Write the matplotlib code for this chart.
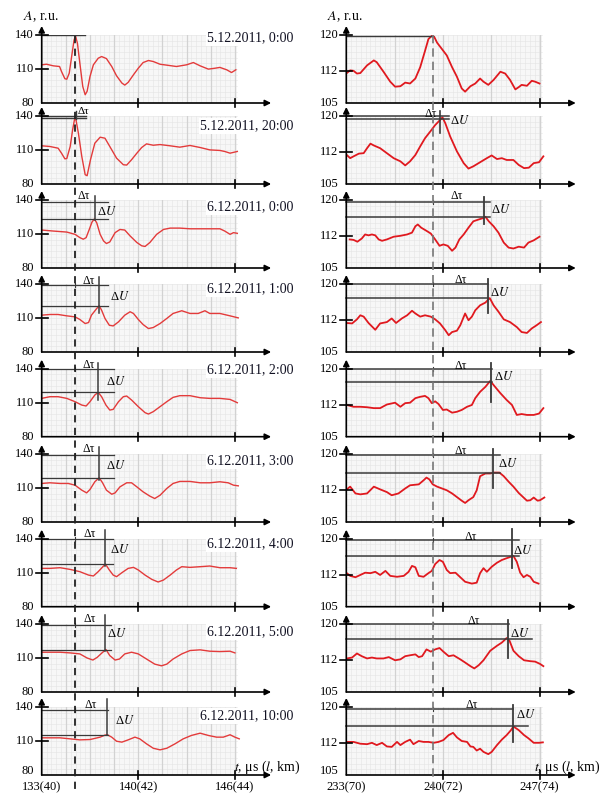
import matplotlib
matplotlib.use('Agg')
import matplotlib.pyplot as plt
from matplotlib.lines import Line2D
from matplotlib.patches import Rectangle
from matplotlib.transforms import blended_transform_factory
import numpy as np

plt.rcParams['font.family'] = ['Liberation Serif', 'DejaVu Serif']
plt.rcParams['mathtext.fontset'] = 'stix'

# ---------------- DATA ----------------
dates = ['5.12.2011, 0:00', '5.12.2011, 20:00', '6.12.2011, 0:00', '6.12.2011, 1:00',
         '6.12.2011, 2:00', '6.12.2011, 3:00', '6.12.2011, 4:00', '6.12.2011, 5:00',
         '6.12.2011, 10:00']

left_xticks = [40, 42, 44]
left_xlabels = ['133(40)', '140(42)', '146(44)']
right_xticks = [70, 72, 74]
right_xlabels = ['233(70)', '240(72)', '247(74)']
left_yticks = [80, 110, 140]
right_yticks = [105, 112, 120]

# left column (l = 40..44 km)
xL1 = [40.00,40.10,40.24,40.37,40.41,40.48,40.52,40.57,40.62,40.67,40.70,40.74,40.79,40.85,40.90,40.94,41.00,41.07,41.17,41.24,41.34,41.45,41.55,41.66,41.72,41.79,41.90,42.00,42.10,42.21,42.31,42.45,42.59,42.79,43.00,43.14,43.28,43.45,43.59,43.69,43.83,43.93,44.02]
aL1 = [113.7,114.2,112.8,112.2,107.8,101.4,101.0,106.3,121.0,135.6,139.1,132.7,115.1,94.6,87.3,90.3,103.4,113.7,119.5,121.0,119.2,112.2,104.0,97.6,95.8,98.2,104.9,110.7,115.7,117.5,116.6,114.2,113.4,112.2,113.7,115.7,112.8,109.9,110.7,111.4,109.3,106.9,109.3]

xL2 = [40.00,40.17,40.34,40.41,40.48,40.52,40.59,40.64,40.68,40.71,40.76,40.83,40.90,40.94,41.01,41.10,41.21,41.31,41.41,41.55,41.69,41.76,41.86,41.97,42.07,42.17,42.31,42.45,42.66,42.86,43.07,43.28,43.48,43.69,43.79,43.90,44.05]
aL2 = [113.7,113.1,111.6,107.2,102.2,102.5,113.1,127.7,137.1,136.5,124.8,104.3,88.2,87.3,101.4,116.0,121.3,120.4,113.1,102.8,97.0,96.7,101.4,107.2,112.2,115.4,114.2,114.8,113.7,112.5,114.0,112.2,110.1,109.6,108.7,107.2,108.7]

xL3 = [40.00,40.24,40.52,40.69,40.79,40.86,40.92,40.99,41.04,41.09,41.14,41.21,41.28,41.34,41.41,41.52,41.62,41.72,41.83,41.97,42.07,42.14,42.24,42.38,42.52,42.66,42.86,43.07,43.28,43.48,43.69,43.79,43.90,43.97,44.05]
aL3 = [113.5,112.6,111.7,109.7,106.8,105.4,106.8,114.6,120.4,123.3,119.8,109.7,103.9,101.6,103.0,111.2,114.0,113.5,108.3,102.5,99.6,99.0,102.5,109.7,114.0,115.2,115.2,114.6,114.6,114.6,114.6,112.6,109.7,111.2,110.6]

xL4 = [40.00,40.17,40.34,40.52,40.69,40.79,40.90,40.97,41.03,41.14,41.19,41.24,41.31,41.40,41.48,41.59,41.72,41.83,41.90,42.00,42.10,42.21,42.31,42.45,42.59,42.72,42.90,43.07,43.24,43.38,43.48,43.69,43.90,44.07]
aL4 = [112.5,113.1,113.1,111.9,111.0,108.7,105.1,106.0,112.5,118.4,120.8,116.9,109.6,103.6,103.0,106.6,112.5,115.5,114.0,108.7,104.2,100.7,101.6,105.1,109.6,114.0,116.4,114.0,114.0,116.4,114.0,114.0,111.9,110.1]

xL5 = [40.00,40.17,40.34,40.52,40.69,40.83,40.92,41.00,41.10,41.17,41.24,41.33,41.41,41.48,41.59,41.69,41.76,41.86,42.00,42.14,42.21,42.31,42.45,42.59,42.72,42.86,43.07,43.28,43.48,43.69,43.90,44.05]
aL5 = [113.8,115.3,115.3,113.8,110.9,107.9,107.1,110.9,116.8,119.1,115.3,107.9,103.5,104.1,110.9,115.3,115.9,112.4,106.5,101.2,100.0,102.1,106.5,110.9,114.7,116.2,116.2,114.4,113.8,113.8,112.9,110.0]

xL6 = [40.00,40.17,40.38,40.55,40.69,40.83,40.93,41.00,41.10,41.19,41.26,41.34,41.45,41.52,41.62,41.76,41.86,41.97,42.10,42.24,42.34,42.45,42.59,42.72,42.86,43.07,43.28,43.48,43.69,43.86,43.97,44.07]
aL6 = [114.0,114.6,114.0,114.0,112.5,108.1,105.7,108.7,115.5,119.0,114.6,108.1,104.5,105.7,111.0,114.6,114.6,111.0,106.6,102.8,100.7,103.6,109.6,114.0,115.8,115.8,114.6,114.6,115.5,114.6,112.5,111.9]

xL7 = [40.00,40.17,40.38,40.59,40.79,40.97,41.07,41.17,41.28,41.32,41.40,41.48,41.55,41.66,41.79,41.90,42.00,42.14,42.28,42.41,42.52,42.66,42.79,42.90,43.07,43.28,43.48,43.69,43.90,44.03]
aL7 = [113.8,113.8,114.4,112.9,110.9,107.9,107.1,110.9,115.9,117.6,112.4,107.9,106.5,110.0,113.8,114.7,112.4,107.9,104.1,101.8,103.5,107.9,112.4,115.3,114.7,115.3,115.9,114.4,114.4,113.8]

xL8 = [40.00,40.17,40.38,40.59,40.79,40.94,41.06,41.15,41.24,41.33,41.41,41.52,41.61,41.72,41.86,42.00,42.17,42.34,42.48,42.59,42.72,42.90,43.07,43.28,43.48,43.69,43.90,44.00]
aL8 = [115.1,115.1,115.1,114.5,113.6,110.0,108.2,110.6,114.2,117.5,112.1,108.2,109.1,113.6,115.1,113.6,109.1,104.6,103.1,104.6,109.1,113.6,116.6,117.2,116.0,115.7,116.0,114.5]

xL9 = [40.00,40.17,40.38,40.59,40.79,41.00,41.21,41.31,41.36,41.45,41.55,41.66,41.79,41.93,42.03,42.17,42.31,42.45,42.59,42.76,42.93,43.10,43.28,43.45,43.62,43.76,43.90,44.00,44.09]
aL9 = [112.8,112.8,112.8,111.9,111.0,111.3,113.4,115.2,115.5,113.4,109.8,109.0,111.0,113.4,111.9,107.5,103.6,102.2,103.6,107.5,111.9,114.9,116.9,114.9,113.4,113.4,115.5,113.4,111.9]

# right column (l = 70..74 km)
xR1 = [70.01,70.08,70.15,70.22,70.29,70.43,70.57,70.63,70.77,70.91,71.01,71.12,71.22,71.32,71.43,71.53,71.63,71.70,71.77,71.82,71.88,71.98,72.08,72.19,72.29,72.39,72.46,72.57,72.67,72.77,72.84,72.94,73.05,73.19,73.29,73.39,73.50,73.57,73.63,73.74,73.84,73.91,74.00]
aR1 = [111.6,112.2,112.1,111.5,111.6,113.3,114.4,114.0,111.9,109.7,108.6,108.7,109.5,109.3,110.4,112.9,116.5,119.1,119.8,119.6,118.3,116.9,115.5,112.9,110.8,108.2,107.5,108.7,109.3,110.4,109.7,109.0,110.1,111.9,111.5,110.1,108.0,108.5,109.0,108.8,109.9,109.7,109.3]

xR2 = [70.01,70.08,70.15,70.26,70.36,70.43,70.50,70.57,70.70,70.84,70.98,71.12,71.22,71.32,71.43,71.53,71.63,71.74,71.84,71.94,71.99,72.05,72.15,72.29,72.43,72.53,72.63,72.77,72.91,73.01,73.12,73.22,73.32,73.46,73.57,73.68,73.78,73.88,73.99,74.08]
aR2 = [111.4,110.7,111.1,111.7,111.8,112.9,113.9,113.5,112.9,111.8,110.7,110.0,109.1,110.0,111.4,113.3,115.1,116.6,118.0,119.1,119.7,118.4,115.5,112.2,109.6,108.4,108.9,109.8,110.7,111.3,110.5,110.7,110.3,110.3,109.2,108.5,108.6,109.6,109.8,111.1]

xR3 = [70.07,70.15,70.23,70.32,70.39,70.46,70.53,70.60,70.67,70.74,70.84,70.98,71.12,71.26,71.36,71.43,71.48,71.55,71.66,71.75,71.84,71.93,72.01,72.10,72.19,72.26,72.34,72.43,72.53,72.63,72.74,72.83,72.88,72.95,73.05,73.15,73.26,73.36,73.46,73.57,73.68,73.77,73.88,74.00]
aR3 = [111.3,111.2,110.8,111.5,112.4,112.2,112.4,112.2,111.3,111.0,111.3,111.9,112.1,112.4,112.8,114.2,114.6,113.9,113.2,112.6,111.3,109.9,110.2,109.9,108.8,109.5,111.3,112.4,113.9,115.3,115.7,116.0,116.3,115.3,114.2,112.8,110.6,109.5,109.3,109.7,109.5,110.6,111.1,111.9]

xR4 = [70.01,70.12,70.22,70.29,70.36,70.46,70.60,70.70,70.84,70.94,71.03,71.15,71.26,71.36,71.43,71.53,71.63,71.75,71.84,71.94,72.05,72.12,72.19,72.29,72.36,72.46,72.53,72.60,72.67,72.77,72.88,72.97,73.05,73.15,73.26,73.39,73.53,73.63,73.74,73.84,73.94,74.03]
aR4 = [111.4,111.3,112.2,113.1,112.8,111.4,109.9,111.3,111.6,112.4,111.4,112.4,113.1,114.1,113.5,112.8,113.1,112.8,112.2,111.3,109.8,108.7,109.4,109.7,110.9,113.5,112.0,112.8,114.2,115.3,115.9,116.9,115.3,113.9,112.2,111.6,110.5,109.4,109.2,110.2,110.9,111.6]

xR5 = [70.01,70.15,70.29,70.43,70.57,70.70,70.84,71.01,71.12,71.22,71.32,71.43,71.53,71.63,71.70,71.77,71.84,71.91,72.00,72.08,72.19,72.29,72.39,72.50,72.60,72.67,72.77,72.88,72.98,73.08,73.19,73.32,73.43,73.53,73.63,73.74,73.88,73.99,74.08]
aR5 = [112.0,111.6,111.6,111.5,111.3,111.3,112.1,112.5,111.6,112.4,112.5,113.5,113.8,114.0,113.5,112.4,112.8,112.2,110.9,111.0,110.3,110.5,110.9,111.6,112.0,113.5,114.9,116.0,117.3,116.0,114.6,113.1,112.0,109.8,110.0,109.8,109.8,110.1,111.3]

xR6 = [70.01,70.08,70.19,70.29,70.43,70.57,70.70,70.84,70.94,71.08,71.22,71.32,71.50,71.60,71.66,71.72,71.79,71.88,71.98,72.08,72.19,72.29,72.39,72.46,72.53,72.63,72.70,72.77,72.88,72.98,73.05,73.17,73.26,73.36,73.46,73.57,73.66,73.74,73.81,73.88,73.96,74.01,74.10]
aR6 = [112.2,112.8,111.3,111.1,111.3,112.8,112.2,111.6,110.9,111.3,112.4,113.1,113.3,114.2,114.8,114.4,113.3,112.8,112.4,112.0,111.3,110.5,109.7,109.2,109.8,110.5,112.0,115.1,115.7,115.7,115.9,115.9,115.1,113.9,112.8,111.4,110.5,109.7,109.8,110.4,109.7,109.8,110.4]

xR7 = [70.01,70.08,70.19,70.29,70.39,70.50,70.60,70.70,70.81,70.91,71.05,71.19,71.29,71.36,71.43,71.50,71.60,71.70,71.77,71.84,71.93,72.00,72.08,72.15,72.26,72.36,72.46,72.60,72.70,72.77,72.84,72.91,73.01,73.12,73.22,73.32,73.46,73.53,73.60,73.67,73.74,73.81,73.88,73.98]
aR7 = [112.4,111.8,111.5,112.0,112.5,112.4,112.7,112.0,112.9,111.8,111.6,111.8,112.7,114.0,113.7,111.8,111.6,112.4,112.9,114.4,115.3,114.9,113.1,112.4,112.5,111.5,110.5,110.1,110.3,112.4,113.5,112.7,113.8,114.7,115.3,115.7,116.2,114.9,112.5,111.5,112.0,111.6,110.5,110.1]

xR8 = [70.01,70.12,70.22,70.32,70.43,70.53,70.63,70.77,70.88,71.01,71.12,71.22,71.32,71.43,71.50,71.57,71.66,71.75,71.84,71.93,72.01,72.12,72.22,72.36,72.46,72.57,72.65,72.74,72.84,72.98,73.12,73.22,73.32,73.38,73.46,73.57,73.68,73.81,73.91,74.01,74.08]
aR8 = [112.4,112.6,113.5,112.9,112.4,112.6,112.4,112.4,112.7,112.0,112.2,112.9,113.1,113.3,112.7,112.9,114.4,113.9,114.4,114.7,113.9,112.9,113.1,112.2,111.5,110.7,110.2,110.9,112.0,114.1,115.2,115.9,116.9,116.3,114.1,112.9,112.0,111.8,111.7,111.2,110.7]

xR9 = [70.01,70.15,70.29,70.43,70.53,70.63,70.74,70.84,70.94,71.05,71.12,71.22,71.32,71.39,71.50,71.60,71.70,71.81,71.91,72.01,72.12,72.21,72.29,72.39,72.50,72.57,72.63,72.70,72.77,72.84,72.94,73.01,73.12,73.22,73.32,73.41,73.46,73.57,73.68,73.77,73.88,73.99,74.07]
aR9 = [112.3,112.3,111.9,111.8,112.1,111.6,112.1,111.3,111.2,112.3,111.6,112.3,112.8,111.8,112.5,112.3,112.3,112.1,112.3,112.7,113.8,114.3,113.3,112.5,112.3,111.3,111.2,110.4,110.8,110.1,109.6,110.1,111.6,112.8,113.8,114.9,115.7,114.9,113.8,113.1,112.1,112.1,112.2]

# reference (dashed) position and pulse peaks (l km, amplitude), rows 3..9
ref_L, ref_R = 40.69, 71.79
peak_xL = [41.10, 41.19, 41.16, 41.19, 41.31, 41.32, 41.36]
peak_aL = [123.3, 120.8, 119.1, 119.0, 117.6, 117.5, 115.0]
peak_xR = [72.86, 72.93, 72.99, 73.03, 73.43, 73.34, 73.46]
peak_aR = [116.3, 116.9, 117.1, 115.9, 116.2, 116.7, 115.7]

left_curves = list(zip([xL1, xL2, xL3, xL4, xL5, xL6, xL7, xL8, xL9],
                       [aL1, aL2, aL3, aL4, aL5, aL6, aL7, aL8, aL9]))
right_curves = list(zip([xR1, xR2, xR3, xR4, xR5, xR6, xR7, xR8, xR9],
                        [aR1, aR2, aR3, aR4, aR5, aR6, aR7, aR8, aR9]))

# ---------------- LAYOUT ----------------
W, H = 606, 796
fig = plt.figure(figsize=(W / 100, H / 100), dpi=100)
row_top = [35, 116, 200, 284, 368.7, 454, 538.7, 624, 707]
PH = 68
PXKM = 48.3
XSPAN = 4.75
LEFT_PX, RIGHT_PX = 41.7, 346.3

ANN = '#3a3a3a'


def panel(x_px, top, x0, ylo, yhi, yticks, maj, hstep, xs, ys, lw, col, last):
    ax = fig.add_axes([x_px / W, 1 - (top + PH) / H, XSPAN * PXKM / W, PH / H])
    ax.set_xlim(x0, x0 + XSPAN)
    ax.set_ylim(ylo, yhi)
    ax.axis('off')
    ux = 1 / PXKM
    uy = (yhi - ylo) / PH
    gx1 = x0 + 4.05
    ax.add_patch(Rectangle((x0, ylo), gx1 - x0, yhi - ylo, facecolor='#f7f7f7',
                           edgecolor='none', zorder=0))
    for v in np.arange(x0, gx1 + 1e-6, 0.1):
        ax.plot([v, v], [ylo, yhi], color='#e4e4e4', lw=0.4, zorder=0.5)
    for h in np.arange(ylo, yhi + 1e-6, hstep):
        ax.plot([x0, gx1], [h, h], color='#e4e4e4', lw=0.4, zorder=0.5)
    for v in np.arange(x0 + maj, gx1, maj):
        ax.plot([v, v], [ylo, yhi], color='#d2d2d2', lw=0.9, zorder=0.6)
    ax.plot(xs, ys, color=col, lw=lw, zorder=3, solid_joinstyle='round')
    # axes with arrows
    ap = dict(arrowstyle='-|>', color='k', lw=1.2, shrinkA=0, shrinkB=0, mutation_scale=9)
    ax.annotate('', xy=(x0 + XSPAN, ylo), xytext=(x0, ylo), arrowprops=ap,
                annotation_clip=False, zorder=5)
    ax.annotate('', xy=(x0, yhi + 9 * uy), xytext=(x0, ylo), arrowprops=ap,
                annotation_clip=False, zorder=5)
    for t in (x0 + 2, x0 + 4):
        ax.plot([t, t], [ylo - 4 * uy, ylo + 4 * uy], color='k', lw=1.2, clip_on=False, zorder=5)
    for yt in yticks[1:]:
        ax.plot([x0 - 6 * ux, x0 + 6 * ux], [yt, yt], color='k', lw=1.2, clip_on=False, zorder=5)
    for j, yt in enumerate(yticks):
        yy = yt + (4 * uy if (last and j == 0) else 0)
        ax.text(x0 - 8 * ux, yy, str(yt), ha='right', va='center', fontsize=9, zorder=6)
    return ax, ux, uy


axL, axR = [], []
for i in range(9):
    a, uxl, uyl = panel(LEFT_PX, row_top[i], 40, 80, 140, left_yticks, 0.5, 5,
                        left_curves[i][0], left_curves[i][1], 1.0, '#e33b3b', i == 8)
    b, uxr, uyr = panel(RIGHT_PX, row_top[i], 70, 105, 120, right_yticks, 1.0, 1.25,
                        right_curves[i][0], right_curves[i][1], 1.3, '#e0191f', i == 8)
    axL.append((a, uxl, uyl))
    axR.append((b, uxr, uyr))

# date labels
date_y = [137.4, 131.2, 133.8, 135.6, 138.8, 133.8, 135.3, 132.9, 132.0]
for i, d in enumerate(dates):
    axL[i][0].text(45.22, date_y[i], d, ha='right', va='center', fontsize=10,
                   color='#111122', zorder=7,
                   bbox=dict(facecolor='white', edgecolor='none', pad=1.2))


def ann(ax, ux, uy, x0, top, end1, end2, px, pa, vtop, vbot, tx, ty, Ux, Uy, ref, lwl):
    ax.plot([x0, end1], [top, top], color=ANN, lw=lwl, zorder=4, clip_on=False)
    ax.plot([x0, end2], [pa, pa], color=ANN, lw=lwl, zorder=4, clip_on=False)
    ax.plot([px, px], [vtop, vbot], color=ANN, lw=lwl + 0.2, zorder=4, clip_on=False)
    ax.plot([ref, ref], [top - 2 * uy, top + 2 * uy], color=ANN, lw=0.8, zorder=4, clip_on=False)
    ax.text(tx, ty, 'Δτ', ha='center', va='center', fontsize=8.5, zorder=6)
    ax.text(Ux, Uy, r'Δ$U$', ha='left', va='center', fontsize=9, zorder=6)


# row 1
a, ux, uy = axL[0]
a.plot([40, 40.90], [140, 140], color=ANN, lw=1.0, zorder=4)
b, ux, uy = axR[0]
b.plot([70, ref_R], [119.8, 119.8], color=ANN, lw=1.0, zorder=4)

# row 2
a, ux, uy = axL[1]
a.plot([40, 40.92], [140, 140], color=ANN, lw=1.0, zorder=4, clip_on=False)
a.plot([40, 40.92], [138.6, 138.6], color=ANN, lw=1.0, zorder=4, clip_on=False)
a.plot([40.71, 40.71], [137.5, 144.0], color=ANN, lw=1.0, zorder=4, clip_on=False)
a.text(40.74, 144.2, 'Δτ', ha='left', va='center', fontsize=8, zorder=6)
b, ux, uy = axR[1]
b.plot([70, 72.12], [119.9, 119.9], color=ANN, lw=1.1, zorder=4, clip_on=False)
b.plot([70, 72.12], [119.4, 119.4], color=ANN, lw=1.1, zorder=4, clip_on=False)
b.plot([71.93, 71.93], [121.0, 116.2], color=ANN, lw=1.2, zorder=4, clip_on=False)
b.text(71.88, 120.5, 'Δτ', ha='right', va='center', fontsize=8.5, zorder=6)
b.text(72.14, 119.1, r'Δ$U$', ha='left', va='center', fontsize=9, zorder=6)

# rows 3..9, left
Ltop = [138.6, 139.1, 139.4, 139.1, 139.4, 139.4, 137.6]
Lend = [41.38, 41.38, 41.50, 41.50, 41.47, 41.43, 41.38]
Lvtop = [143.5, 145.9, 144.7, 145.9, 147.6, 148.1, 147.4]
Lvbot = [122.0, 114.6, 112.4, 117.5, 115.9, 116.6, 114.9]
Ltx = [40.87, 40.97, 40.97, 40.97, 41.00, 40.99, 41.01]
Lty = [143.5, 143.0, 143.2, 144.1, 143.8, 144.2, 141.5]
LUx = [41.15, 41.41, 41.33, 41.33, 41.41, 41.36, 41.52]
LUy = [129.9, 129.4, 128.5, 130.2, 130.6, 131.6, 128.2]
for k in range(7):
    a, ux, uy = axL[k + 2]
    ann(a, ux, uy, 40, Ltop[k], Lend[k], Lend[k], peak_xL[k], peak_aL[k], Lvtop[k], Lvbot[k],
        Ltx[k], Lty[k], LUx[k], LUy[k], ref_L, 0.9)

# rows 3..9, right
Rtop = [119.6, 119.9, 119.9, 119.8, 119.7, 119.9, 119.6]
Rend1 = [72.98, 72.94, 73.01, 73.19, 73.57, 73.36, 73.46]
Rend2 = [72.98, 72.94, 73.01, 73.19, 73.57, 73.84, 73.77]
Rvtop = [120.7, 121.2, 121.2, 121.0, 122.1, 120.9, 120.5]
Rvbot = [114.6, 113.6, 112.7, 112.6, 113.5, 112.6, 112.3]
Rtx = [72.29, 72.36, 72.36, 72.36, 72.57, 72.63, 72.60]
Rty = [120.9, 120.9, 120.5, 120.7, 120.4, 120.6, 120.5]
RUx = [72.99, 72.97, 73.06, 73.15, 73.46, 73.38, 73.52]
RUy = [117.8, 118.2, 118.2, 117.8, 117.5, 118.0, 118.3]
for k in range(7):
    b, ux, uy = axR[k + 2]
    ann(b, ux, uy, 70, Rtop[k], Rend1[k], Rend2[k], peak_xR[k], peak_aR[k], Rvtop[k], Rvbot[k],
        Rtx[k], Rty[k], RUx[k], RUy[k], ref_R, 1.1)

# dashed reference lines through all rows
trL = blended_transform_factory(axL[0][0].transData, fig.transFigure)
trR = blended_transform_factory(axR[0][0].transData, fig.transFigure)
fig.add_artist(Line2D([ref_L, ref_L], [1 - 36 / H, 1 - 790 / H], transform=trL,
                      ls=(0, (4, 3)), color='#222222', lw=1.3, zorder=8))
fig.add_artist(Line2D([ref_R, ref_R], [1 - 35 / H, 1 - 790 / H], transform=trR,
                      ls=(0, (5, 3)), color='#777777', lw=1.2, zorder=8))

# axis titles
fig.text(41 / W, 1 - 17 / H, r'$A$, r.u.', ha='center', va='center', fontsize=10)
fig.text(345 / W, 1 - 17 / H, r'$A$, r.u.', ha='center', va='center', fontsize=10)
fig.text(267 / W, 1 - 767 / H, r'$t$, μs ($l$, km)', ha='center', va='center', fontsize=10)
fig.text(567 / W, 1 - 767 / H, r'$t$, μs ($l$, km)', ha='center', va='center', fontsize=10)

# bottom tick labels
tbL = blended_transform_factory(axL[-1][0].transData, fig.transFigure)
tbR = blended_transform_factory(axR[-1][0].transData, fig.transFigure)
for t, lab in zip(left_xticks, left_xlabels):
    axL[-1][0].text(t, 1 - 787 / H, lab, transform=tbL, ha='center', va='center', fontsize=9)
for t, lab in zip(right_xticks, right_xlabels):
    axR[-1][0].text(t, 1 - 787 / H, lab, transform=tbR, ha='center', va='center', fontsize=9)

fig.savefig('out.png', dpi=100, facecolor='white')
